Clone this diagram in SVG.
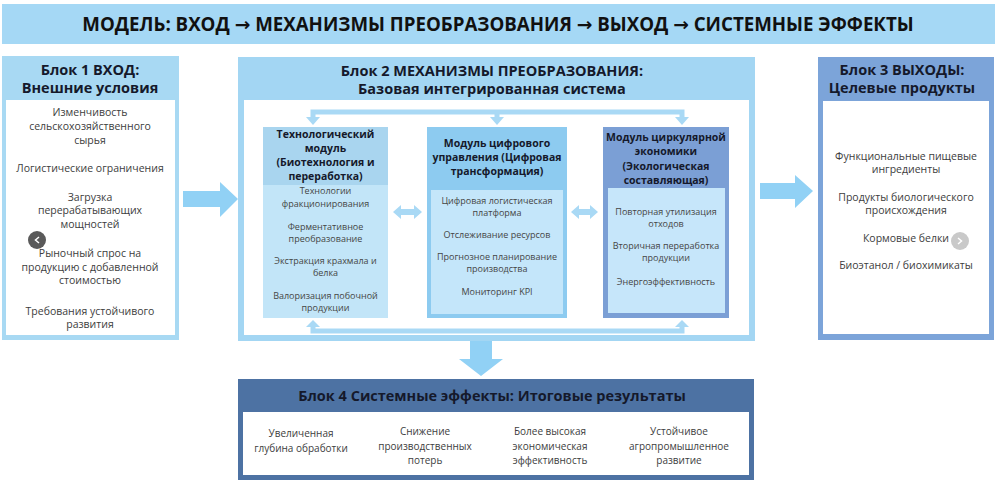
<svg xmlns="http://www.w3.org/2000/svg" width="997" height="485" viewBox="0 0 997 485">
<style>
text{font-family:"Open Sans","Noto Sans","DejaVu Sans",sans-serif;text-anchor:middle}
.ttl{font-size:18.7px;font-weight:700;fill:#111}
.bh{font-size:14.5px;font-weight:700;fill:#15192b}
.it{font-size:10.5px;fill:#3d3d3d}
.mh{font-size:10.5px;font-weight:700;fill:#15192b}
.mi{font-size:9px;fill:#454545}
.ef{font-size:10px;fill:#3d3d3d}
.big{fill:#91d1f5}
.con{fill:#a9d9f5}
.conl{stroke:#a9d9f5;stroke-width:5;fill:none}
</style>
<rect width="997" height="485" fill="#ffffff"/>
<g id="title">
<rect x="2" y="4" width="993" height="40" fill="#a5d8f5"/>
<text class="ttl" x="498" y="31">МОДЕЛЬ: ВХОД → МЕХАНИЗМЫ ПРЕОБРАЗОВАНИЯ → ВЫХОД → СИСТЕМНЫЕ ЭФФЕКТЫ</text>
</g>
<g id="block1">
<rect x="2" y="56" width="177" height="284" fill="#a8d9f3"/>
<rect x="6" y="100" width="169" height="235" fill="#ffffff"/>
<text class="bh" x="90" y="75">Блок 1 ВХОД:</text>
<text class="bh" x="90" y="93">Внешние условия</text>
<text class="it" x="90" y="116">Изменчивость</text>
<text class="it" x="90" y="130">сельскохозяйственного</text>
<text class="it" x="90" y="144">сырья</text>
<text class="it" x="90" y="172">Логистические ограничения</text>
<text class="it" x="90" y="201">Загрузка</text>
<text class="it" x="90" y="214">перерабатывающих</text>
<text class="it" x="90" y="228">мощностей</text>
<text class="it" x="90" y="257">Рыночный спрос на</text>
<text class="it" x="90" y="271">продукцию с добавленной</text>
<text class="it" x="90" y="284">стоимостью</text>
<text class="it" x="90" y="315">Требования устойчивого</text>
<text class="it" x="90" y="328">развития</text>
</g>
<g id="block2">
<rect x="238" y="57" width="517" height="284" fill="#a3d6f3"/>
<rect x="244" y="100" width="505" height="235" fill="#ffffff"/>
<text class="bh" x="492" y="76">Блок 2 МЕХАНИЗМЫ ПРЕОБРАЗОВАНИЯ:</text>
<text class="bh" x="492" y="94">Базовая интегрированная система</text>
</g>
<g id="module-tech">
<rect x="263" y="127" width="125" height="191" fill="#c2e5f8"/>
<rect x="263" y="127" width="125" height="58" fill="#a9d5ef"/>
<text class="mh" x="325.5" y="138">Технологический</text>
<text class="mh" x="325.5" y="152">модуль</text>
<text class="mh" x="325.5" y="166">(Биотехнология и</text>
<text class="mh" x="325.5" y="180">переработка)</text>
<text class="mi" x="325.5" y="194">Технологии</text>
<text class="mi" x="325.5" y="207">фракционирования</text>
<text class="mi" x="325.5" y="230">Ферментативное</text>
<text class="mi" x="325.5" y="242">преобразование</text>
<text class="mi" x="325.5" y="264">Экстракция крахмала и</text>
<text class="mi" x="325.5" y="276">белка</text>
<text class="mi" x="325.5" y="299">Валоризация побочной</text>
<text class="mi" x="325.5" y="311">продукции</text>
</g>
<g id="module-digital">
<rect x="427" y="127" width="140" height="191" fill="#8dcbf0"/>
<rect x="431" y="190" width="132" height="124" fill="#c4e6fa"/>
<text class="mh" x="497" y="147">Модуль цифрового</text>
<text class="mh" x="497" y="161">управления (Цифровая</text>
<text class="mh" x="497" y="175">трансформация)</text>
<text class="mi" x="497" y="204">Цифровая логистическая</text>
<text class="mi" x="497" y="216">платформа</text>
<text class="mi" x="497" y="238">Отслеживание ресурсов</text>
<text class="mi" x="497" y="260">Прогнозное планирование</text>
<text class="mi" x="497" y="272">производства</text>
<text class="mi" x="497" y="295">Мониторинг KPI</text>
</g>
<g id="module-circular">
<rect x="603" y="127" width="126" height="191" fill="#7b9fd5"/>
<rect x="608" y="188" width="117" height="125" fill="#c6e6fa"/>
<text class="mh" x="666" y="141">Модуль циркулярной</text>
<text class="mh" x="666" y="155">экономики</text>
<text class="mh" x="666" y="170">(Экологическая</text>
<text class="mh" x="666" y="184">составляющая)</text>
<text class="mi" x="666" y="215">Повторная утилизация</text>
<text class="mi" x="666" y="227">отходов</text>
<text class="mi" x="666" y="249">Вторичная переработка</text>
<text class="mi" x="666" y="261">продукции</text>
<text class="mi" x="666" y="285">Энергоэффективность</text>
</g>
<g id="block3">
<rect x="818" y="57" width="176" height="283" fill="#7ca4d9"/>
<rect x="823" y="101" width="166" height="233" fill="#ffffff"/>
<text class="bh" x="902" y="75">Блок 3 ВЫХОДЫ:</text>
<text class="bh" x="902" y="93">Целевые продукты</text>
<text class="it" x="906" y="160">Функциональные пищевые</text>
<text class="it" x="906" y="173">ингредиенты</text>
<text class="it" x="906" y="201">Продукты биологического</text>
<text class="it" x="906" y="214">происхождения</text>
<text class="it" x="906" y="242">Кормовые белки</text>
<text class="it" x="906" y="269">Биоэтанол / биохимикаты</text>
</g>
<g id="block4">
<rect x="238" y="379" width="516" height="101" fill="#4d72a3"/>
<rect x="243" y="412" width="506" height="63" fill="#ffffff"/>
<text class="bh" x="492" y="401">Блок 4 Системные эффекты: Итоговые результаты</text>
<text class="ef" x="301" y="437">Увеличенная</text>
<text class="ef" x="301" y="452">глубина обработки</text>
<text class="ef" x="425" y="435">Снижение</text>
<text class="ef" x="425" y="450">производственных</text>
<text class="ef" x="425" y="464">потерь</text>
<text class="ef" x="550" y="435">Более высокая</text>
<text class="ef" x="550" y="450">экономическая</text>
<text class="ef" x="550" y="464">эффективность</text>
<text class="ef" x="679" y="435">Устойчивое</text>
<text class="ef" x="679" y="450">агропромышленное</text>
<text class="ef" x="679" y="464">развитие</text>
</g>
<g id="connectors">
<polygon class="big" points="183,191 220,191 220,182 238,199 220,217 220,207 183,207"/>
<polygon class="big" points="760,183 795,183 795,175 813,191 795,208 795,199 760,199"/>
<polygon class="big" points="470,341 492,341 492,359 503,359 481,376 459,359 470,359"/>
<path class="conl" d="M313,118 V112 H682 V118 M497,112 V118"/>
<polygon class="con" points="306,117 320,117 313,125"/>
<polygon class="con" points="490,117 504,117 497,125"/>
<polygon class="con" points="675,117 689,117 682,125"/>
<path class="conl" d="M313,326 V331 H682 V326"/>
<polygon class="con" points="306,327 320,327 313,320"/>
<polygon class="con" points="675,327 689,327 682,320"/>
<polygon class="con" points="393,212 401,205 401,209 414,209 414,205 422,212 414,219 414,215 401,215 401,219"/>
<polygon class="con" points="571,212 579,205 579,209 590,209 590,205 598,212 590,219 590,215 579,215 579,219"/>
</g>
<g id="carousel-buttons">
<circle cx="37" cy="240" r="9" fill="#5a5a5a"/>
<polyline points="39,237 35.5,240 39,243" fill="none" stroke="#ffffff" stroke-width="1.5"/>
<circle cx="960" cy="241" r="9" fill="#c9c9c9"/>
<polyline points="958,238 961.5,241 958,244" fill="none" stroke="#ffffff" stroke-width="1.5"/>
</g>
</svg>
